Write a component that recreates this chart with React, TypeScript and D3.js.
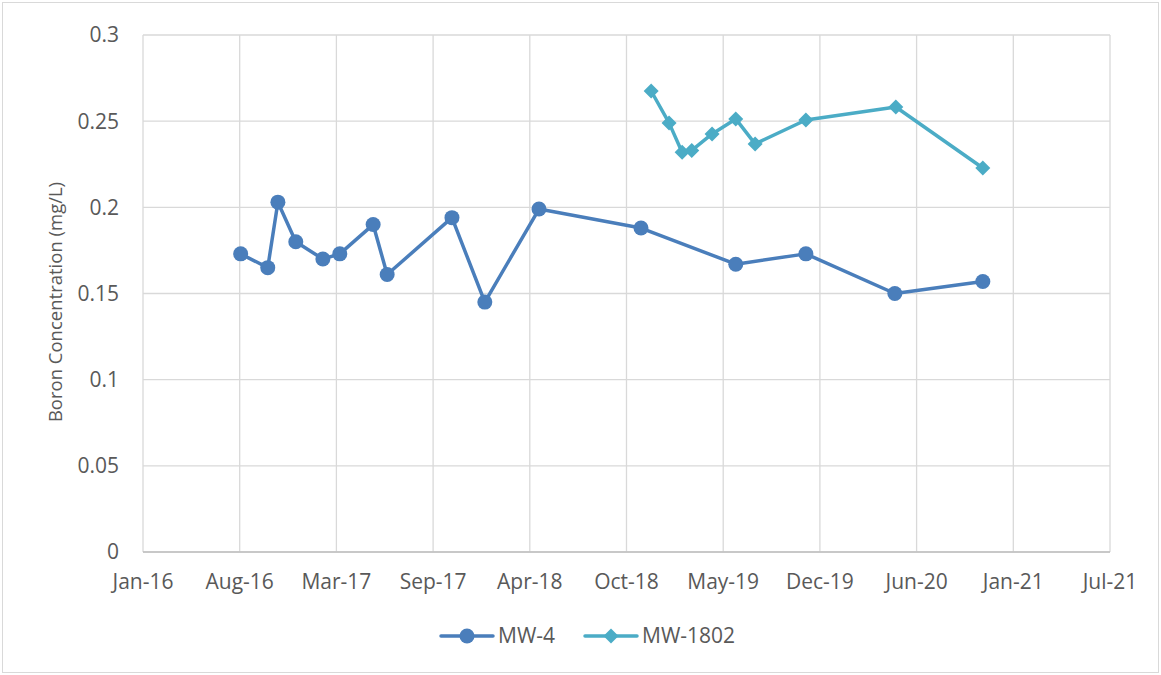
import React from "react";
import * as d3 from "d3";

const mw4Dates = ["2016-08-20","2016-10-15","2016-11-05","2016-12-12","2017-02-06","2017-03-13","2017-05-21","2017-06-19","2017-10-31","2018-01-07","2018-04-29","2018-11-26","2019-06-10","2019-11-02","2020-05-04","2020-11-02"];
const mw4Values = [0.173,0.165,0.203,0.180,0.170,0.173,0.190,0.161,0.194,0.145,0.199,0.188,0.167,0.173,0.150,0.157];
const mw1802Dates = ["2018-12-17","2019-01-23","2019-02-19","2019-03-11","2019-04-22","2019-06-10","2019-07-20","2019-11-02","2020-05-06","2020-11-02"];
const mw1802Values = [0.2675,0.249,0.232,0.233,0.2426,0.2513,0.2368,0.2507,0.2582,0.2228];
const yTicks = [0,0.05,0.1,0.15,0.2,0.25,0.3];
const xStart = "2016-01-31";
const xStepDays = 200;
const xTickCount = 11;
const seriesNames = ["MW-4","MW-1802"];
const colors = ["#4A7EBB","#4BACC6"];

const parse = d3.utcParse("%Y-%m-%d");
const fmt = d3.utcFormat("%b-%y");

export default function App() {
  const W = 1161, H = 675;
  const left = 143, right = 1110, top = 35, bottom = 552;
  const start = parse(xStart)!;
  const xTicks = d3.range(xTickCount).map(i => d3.utcDay.offset(start, i * xStepDays));
  const x = d3.scaleUtc().domain([xTicks[0], xTicks[xTicks.length - 1]]).range([left, right]);
  const y = d3.scaleLinear().domain([0, 0.3]).range([bottom, top]);
  const s1 = mw4Dates.map((d, i) => ({ d: parse(d)!, v: mw4Values[i] }));
  const s2 = mw1802Dates.map((d, i) => ({ d: parse(d)!, v: mw1802Values[i] }));
  const line = d3.line<{ d: Date; v: number }>().x(p => x(p.d)).y(p => y(p.v));
  const font = "'Open Sans', 'Noto Sans', sans-serif";
  const textColor = "#595959";
  const fs = 21;
  const diamond = (cx: number, cy: number, r: number) => `M${cx},${cy - r}L${cx + r},${cy}L${cx},${cy + r}L${cx - r},${cy}Z`;
  const legendY = 636;
  return (
    <svg width={W} height={H} style={{ position: "absolute", left: 0, top: 0 }} fontFamily={font}>
      <rect x={2.5} y={2.5} width={W - 5} height={H - 5} fill="#fff" stroke="#D9D9D9" />
      {yTicks.map(t => (
        <line key={"gy" + t} x1={left} x2={right} y1={y(t)} y2={y(t)} stroke="#D9D9D9" strokeWidth={1.3} />
      ))}
      {xTicks.map((t, i) => (
        <line key={"gx" + i} x1={x(t)} x2={x(t)} y1={top} y2={bottom} stroke="#D9D9D9" strokeWidth={1.3} />
      ))}
      <line x1={left} x2={right} y1={bottom} y2={bottom} stroke="#BFBFBF" strokeWidth={1.3} />
      {yTicks.map(t => (
        <text key={"ty" + t} x={left - 24} y={y(t)} dy="0.35em" textAnchor="end" fontSize={fs} fill={textColor}>{t}</text>
      ))}
      {xTicks.map((t, i) => (
        <text key={"tx" + i} x={x(t)} y={bottom + 30} dy="0.35em" textAnchor="middle" fontSize={fs} fill={textColor}>{fmt(t)}</text>
      ))}
      <text transform={`translate(56,302) rotate(-90)`} textAnchor="middle" dy="0.35em" fontSize={18.5} fill={textColor}>Boron Concentration (mg/L)</text>
      <path d={line(s1)!} fill="none" stroke={colors[0]} strokeWidth={3.5} strokeLinejoin="round" />
      {s1.map((p, i) => <circle key={"c" + i} cx={x(p.d)} cy={y(p.v)} r={7.5} fill={colors[0]} />)}
      <path d={line(s2)!} fill="none" stroke={colors[1]} strokeWidth={3.5} strokeLinejoin="round" />
      {s2.map((p, i) => <path key={"d" + i} d={diamond(x(p.d), y(p.v), 7.5)} fill={colors[1]} />)}
      <g>
        <line x1={441} x2={493} y1={legendY} y2={legendY} stroke={colors[0]} strokeWidth={3.5} strokeLinecap="round" />
        <circle cx={467} cy={legendY} r={7.5} fill={colors[0]} />
        <text x={498} y={legendY} dy="0.35em" fontSize={fs} fill={textColor}>{seriesNames[0]}</text>
        <line x1={585} x2={637} y1={legendY} y2={legendY} stroke={colors[1]} strokeWidth={3.5} strokeLinecap="round" />
        <path d={diamond(611, legendY, 7.5)} fill={colors[1]} />
        <text x={642} y={legendY} dy="0.35em" fontSize={fs} fill={textColor}>{seriesNames[1]}</text>
      </g>
    </svg>
  );
}
